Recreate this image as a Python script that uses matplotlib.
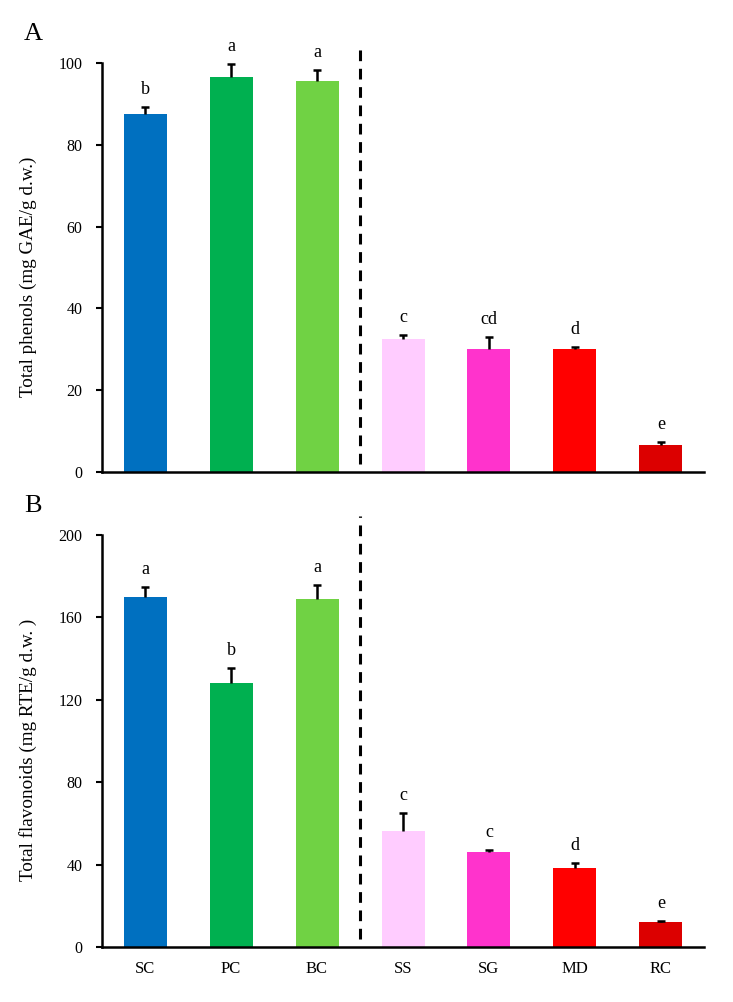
import matplotlib
matplotlib.use("Agg")
import matplotlib.pyplot as plt

categories = ["SC", "PC", "BC", "SS", "SG", "MD", "RC"]
colors = ["#0070C0", "#00B050", "#70D244", "#FFCCFF", "#FF33CC", "#FF0000", "#DC0000"]

phenols = [87.6, 96.7, 95.5, 32.6, 30.2, 30.0, 6.7]
phenols_err = [1.7, 3.1, 2.8, 0.9, 2.8, 0.5, 0.6]
phenols_letters = ["b", "a", "a", "c", "cd", "d", "e"]

flav = [169.8, 128.0, 169.1, 56.3, 46.1, 38.2, 12.0]
flav_err = [5.1, 7.3, 6.6, 8.6, 1.0, 2.4, 0.6]
flav_letters = ["a", "b", "a", "c", "c", "d", "e"]

plt.rcParams['font.family'] = ['Liberation Serif', 'DejaVu Serif']

fig = plt.figure(figsize=(7.33, 10.02), dpi=100)
axA = fig.add_axes([0.1392, 0.5289, 0.8212, 0.4082])
axB = fig.add_axes([0.1392, 0.0549, 0.8212, 0.4112])

def draw(ax, vals, errs, letters, ymax, step, ylabel, offset, panel):
    x = list(range(len(categories)))
    ax.bar(x, vals, width=0.5, color=colors, zorder=2)
    cont = ax.errorbar(x, vals, yerr=[[0]*len(vals), errs], fmt='none', ecolor='black',
                       elinewidth=1.8, capsize=2.8, capthick=1.8, zorder=3)
    caps = cont[1]
    if len(caps) == 2:
        caps[0].set_visible(False)
    for xi, v, e, l in zip(x, vals, errs, letters):
        ax.text(xi, v + e + offset, l, ha='center', va='bottom', fontsize=13)
    ax.set_xlim(-0.5, 6.5)
    ax.set_ylim(0, ymax)
    ax.set_yticks(range(0, ymax + 1, step))
    ax.set_xticks(x)
    ax.set_xticklabels(categories if panel == "B" else [""]*len(categories), fontsize=12)
    ax.tick_params(axis='x', length=0, pad=10)
    ax.tick_params(axis='y', direction='out', length=4.5, width=1.5, labelsize=11.5, pad=9.5)
    for s in ['top', 'right']:
        ax.spines[s].set_visible(False)
    for s in ['left', 'bottom']:
        ax.spines[s].set_linewidth(1.8)
    ax.set_ylabel(ylabel, fontsize=13.8)
    ax.yaxis.set_label_coords(-0.108, 0.478)
    ax.plot([2.5, 2.5], [0.02*ymax, 1.045*ymax], linestyle=(0, (3.5, 2.5)), color='black',
            linewidth=2.2, clip_on=False, zorder=4)
    ax.text(-0.115, 1.07, panel, transform=ax.transAxes, fontsize=19, ha='center', va='center')

draw(axA, phenols, phenols_err, phenols_letters, 100, 20,
     "Total phenols (mg GAE/g d.w.)", 2.2, "A")
draw(axB, flav, flav_err, flav_letters, 200, 40,
     "Total flavonoids (mg RTE/g d.w. )", 4.4, "B")

fig.savefig("out.png", dpi=100)
